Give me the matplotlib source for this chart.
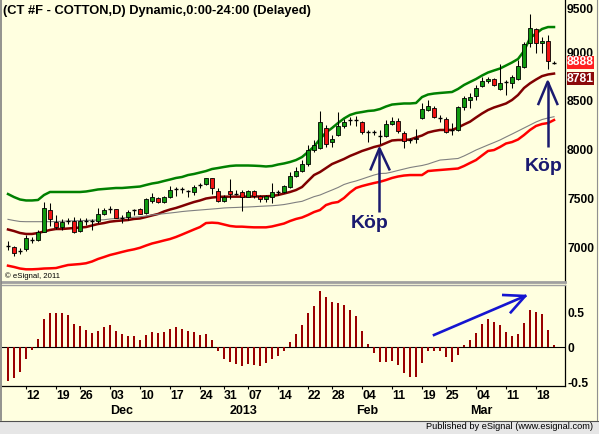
import numpy as np
import pandas as pd
import matplotlib
matplotlib.use("Agg")
import matplotlib.pyplot as plt
from matplotlib.lines import Line2D
from matplotlib.patches import Rectangle

plt.rcParams["font.family"] = ["Liberation Sans", "DejaVu Sans"]
plt.rcParams["axes.unicode_minus"] = False

# ----------------------------
# Data
# ----------------------------
holidays = ["2012-11-22", "2012-12-25", "2013-01-01", "2013-01-21", "2013-02-18"]
dates = pd.bdate_range("2012-11-06", "2013-03-20").drop(pd.to_datetime(holidays))

open_ = [7005, 6997, 6960, 6980, 7070, 7072, 7157, 7380, 7254, 7208,
         7262, 7267, 7167, 7258, 7266, 7270, 7336, 7391, 7390, 7297,
         7311, 7371, 7387, 7346, 7472, 7500, 7459, 7510, 7591, 7598,
         7573, 7565, 7628, 7647, 7706, 7578, 7475, 7575, 7542, 7562,
         7517, 7575, 7524, 7493, 7510, 7560, 7562, 7619, 7732, 7784,
         7852, 7996, 8014, 8225, 8075, 8150, 8243, 8299, 8309, 8287,
         8172, 8183, 8135, 8140, 8260, 8294, 8168, 8094, 8119, 8328,
         8407, 8424, 8320, 8315, 8200, 8202, 8441, 8510, 8554, 8654,
         8705, 8725, 8620, 8689, 8681, 8722, 8852, 9092, 9239, 9092,
         9116, 8893]
high = [7062, 7010, 6990, 7123, 7106, 7175, 7459, 7455, 7326, 7284,
        7295, 7311, 7295, 7295, 7288, 7398, 7398, 7421, 7395, 7326,
        7380, 7393, 7398, 7506, 7551, 7517, 7524, 7626, 7619, 7613,
        7585, 7637, 7654, 7712, 7709, 7603, 7534, 7695, 7585, 7585,
        7585, 7585, 7534, 7534, 7654, 7585, 7637, 7773, 7825, 7893,
        8048, 8099, 8400, 8253, 8150, 8383, 8312, 8332, 8345, 8294,
        8202, 8202, 8202, 8304, 8332, 8322, 8191, 8116, 8209, 8482,
        8510, 8448, 8356, 8338, 8270, 8448, 8551, 8579, 8664, 8743,
        8743, 8733, 8876, 8715, 8766, 8920, 9108, 9393, 9246, 9160,
        9177, 8910]
low = [6969, 6908, 6928, 6959, 7044, 7065, 7154, 7216, 7188, 7175,
       7236, 7141, 7154, 7226, 7175, 7250, 7329, 7352, 7295, 7250,
       7277, 7326, 7336, 7339, 7449, 7449, 7449, 7500, 7524, 7551,
       7510, 7534, 7609, 7637, 7541, 7465, 7465, 7493, 7534, 7373,
       7510, 7500, 7465, 7465, 7449, 7534, 7551, 7603, 7722, 7773,
       7832, 7979, 8003, 8030, 8024, 8140, 8225, 8253, 8243, 8160,
       8081, 8150, 8058, 8127, 8253, 8174, 8014, 8071, 8071, 8311,
       8397, 8322, 8287, 8174, 8150, 8194, 8407, 8424, 8510, 8640,
       8681, 8654, 8612, 8561, 8630, 8715, 8835, 9057, 8989, 8989,
       8825, 8876]
close = [7010, 6935, 6958, 7089, 7075, 7157, 7398, 7284, 7208, 7254,
         7266, 7154, 7267, 7262, 7262, 7336, 7383, 7395, 7301, 7293,
         7356, 7375, 7339, 7490, 7510, 7462, 7510, 7585, 7595, 7594,
         7577, 7613, 7632, 7706, 7609, 7475, 7510, 7541, 7546, 7510,
         7575, 7524, 7493, 7524, 7562, 7564, 7626, 7729, 7780, 7849,
         7996, 8048, 8284, 8058, 8109, 8246, 8287, 8303, 8305, 8178,
         8176, 8179, 8139, 8260, 8294, 8194, 8089, 8098, 8109, 8414,
         8448, 8332, 8324, 8178, 8204, 8435, 8527, 8544, 8630, 8705,
         8725, 8664, 8687, 8693, 8743, 8859, 9085, 9246, 9092, 9116,
         8913, 8888]

upper_band = [7544, 7513, 7488, 7478, 7478, 7483, 7534, 7565, 7565, 7565,
              7565, 7565, 7565, 7570, 7580, 7591, 7596, 7601, 7606, 7606,
              7611, 7616, 7621, 7637, 7652, 7662, 7678, 7693, 7709, 7719,
              7739, 7750, 7765, 7780, 7801, 7811, 7822, 7832, 7837, 7837,
              7837, 7835, 7832, 7827, 7832, 7847, 7858, 7873, 7893, 7924,
              7976, 8032, 8109, 8176, 8222, 8273, 8320, 8356, 8376, 8386,
              8397, 8402, 8417, 8443, 8463, 8469, 8474, 8474, 8479, 8540,
              8566, 8576, 8582, 8587, 8592, 8623, 8664, 8695, 8725, 8761,
              8792, 8813, 8833, 8864, 8895, 8931, 9013, 9146, 9193, 9239,
              9259, 9259]
mid_line = [7180, 7164, 7144, 7134, 7134, 7144, 7159, 7175, 7185, 7185,
            7190, 7195, 7200, 7205, 7221, 7236, 7246, 7260, 7267, 7272,
            7277, 7288, 7293, 7308, 7324, 7339, 7365, 7385, 7401, 7421,
            7442, 7462, 7478, 7498, 7508, 7514, 7517, 7517, 7517, 7517,
            7517, 7519, 7519, 7521, 7524, 7534, 7549, 7565, 7585, 7616,
            7678, 7739, 7770, 7811, 7852, 7878, 7904, 7935, 7960, 7986,
            8006, 8027, 8042, 8068, 8094, 8099, 8099, 8104, 8125, 8145,
            8176, 8191, 8202, 8202, 8202, 8227, 8258, 8287, 8330, 8371,
            8407, 8433, 8453, 8474, 8510, 8561, 8633, 8681, 8720, 8755,
            8772, 8781]
slow_line = [7284, 7272, 7262, 7260, 7260, 7260, 7260, 7260, 7262, 7264,
             7267, 7269, 7271, 7273, 7275, 7277, 7280, 7288, 7293, 7298,
             7301, 7306, 7311, 7318, 7329, 7336, 7342, 7349, 7356, 7364,
             7370, 7375, 7380, 7385, 7390, 7395, 7401, 7404, 7406, 7409,
             7411, 7414, 7418, 7421, 7424, 7429, 7436, 7447, 7459, 7469,
             7493, 7517, 7534, 7560, 7585, 7611, 7642, 7662, 7678, 7698,
             7719, 7739, 7755, 7757, 7770, 7786, 7801, 7816, 7827, 7837,
             7852, 7873, 7893, 7898, 7904, 7909, 7935, 7965, 7996, 8022,
             8048, 8073, 8099, 8130, 8160, 8191, 8222, 8253, 8284, 8309,
             8325, 8338]
lower_band = [6808, 6795, 6779, 6771, 6771, 6774, 6779, 6781, 6784, 6800,
              6815, 6820, 6825, 6833, 6851, 6877, 6897, 6918, 6933, 6949,
              6964, 6976, 6992, 7015, 7036, 7051, 7067, 7082, 7103, 7128,
              7154, 7180, 7205, 7246, 7250, 7246, 7231, 7216, 7209, 7209,
              7205, 7202, 7202, 7202, 7211, 7226, 7241, 7267, 7288, 7303,
              7329, 7359, 7380, 7431, 7452, 7462, 7503, 7560, 7606, 7626,
              7642, 7657, 7670, 7688, 7709, 7724, 7734, 7739, 7739, 7739,
              7780, 7786, 7791, 7796, 7801, 7806, 7832, 7863, 7893, 7940,
              7986, 7996, 8027, 8063, 8078, 8104, 8150, 8202, 8243, 8263,
              8273, 8304]
oscillator = [-0.48, -0.44, -0.35, -0.17, -0.04, 0.12, 0.40, 0.49, 0.49, 0.49,
              0.46, 0.33, 0.30, 0.25, 0.21, 0.23, 0.29, 0.32, 0.23, 0.19,
              0.16, 0.16, 0.105, 0.175, 0.22, 0.21, 0.22, 0.26, 0.29, 0.26,
              0.23, 0.22, 0.175, 0.19, 0.105, -0.06, -0.17, -0.205, -0.24, -0.27,
              -0.24, -0.25, -0.27, -0.22, -0.17, -0.13, -0.06, 0.075, 0.19, 0.32,
              0.485, 0.59, 0.80, 0.72, 0.65, 0.63, 0.60, 0.53, 0.44, 0.23,
              0.05, -0.08, -0.21, -0.21, -0.19, -0.26, -0.37, -0.43, -0.43, -0.23,
              -0.06, -0.05, -0.05, -0.14, -0.21, -0.11, 0.03, 0.10, 0.21, 0.33,
              0.40, 0.36, 0.32, 0.22, 0.16, 0.19, 0.35, 0.53, 0.50, 0.475,
              0.25, 0.03]

price_ticks = [7000, 7500, 8000, 8500, 9000]
osc_ticks = [-0.5, 0, 0.5]
title = "(CT #F - COTTON,D) Dynamic,0:00-24:00 (Delayed)"

# ----------------------------
# Layout
# ----------------------------
W, H = 599, 434
BG = "#FFFFE0"


def box(x0, y0, x1, y1):
    return [x0 / W, 1 - y1 / H, (x1 - x0) / W, (y1 - y0) / H]


fig = plt.figure(figsize=(W / 100, H / 100), dpi=100, facecolor=BG)
ax = fig.add_axes(box(2, 0, 565, 282), facecolor=BG)
ax2 = fig.add_axes(box(2, 285, 565, 386), facecolor=BG)

x = np.arange(len(dates))
o = np.array(open_)
h = np.array(high)
l = np.array(low)
c = np.array(close)

# ----------------------------
# Price panel
# ----------------------------
ax.plot(x, upper_band, color="#008000", lw=1.8, zorder=2)
ax.plot(x, mid_line, color="#800000", lw=1.8, zorder=2)
ax.plot(x, slow_line, color="#808080", lw=0.8, zorder=2)
ax.plot(x, lower_band, color="#FF0000", lw=1.8, zorder=2)

ax.vlines(x, l, h, color="black", lw=0.75, zorder=3)
doji = np.abs(c - o) < 8
up = (c > o) & ~doji
down = (c < o) & ~doji
ax.bar(x[up], (c - o)[up], bottom=o[up], width=0.72, color="#109A10",
       edgecolor="black", lw=0.6, zorder=4)
ax.bar(x[down], (o - c)[down], bottom=c[down], width=0.72, color="#F01414",
       edgecolor="black", lw=0.6, zorder=4)
ax.hlines(c[doji], x[doji] - 0.38, x[doji] + 0.38, color="black", lw=1.0, zorder=4)

ax.set_xlim(-1.0, 92.83)
ax.set_ylim(6640.6, 9536.7)
ax.set_xticks([])
ax.yaxis.tick_right()
ax.set_yticks(price_ticks)
ax.tick_params(axis="y", length=0, pad=1.5, labelsize=8.7)
for lbl in ax.get_yticklabels():
    lbl.set_fontweight("bold")
ax.text(1 + 2 / 563, 9429, "9500", transform=ax.get_yaxis_transform(),
        ha="left", va="center", fontsize=8.7, fontweight="bold")
for side in ["left", "top"]:
    ax.spines[side].set_visible(False)
ax.spines["right"].set_color("black")
ax.spines["right"].set_linewidth(0.9)
ax.spines["bottom"].set_color("#A0A0A0")
ax.spines["bottom"].set_linewidth(2)

# last price and mid-line value boxes (the lower one is pushed down to stay clear)
ax.annotate(f"{mid_line[-1]:.0f}", xy=(1, mid_line[-1]), xycoords=ax.get_yaxis_transform(),
            xytext=(1.5, -3.6), textcoords="offset points",
            ha="left", va="center", fontsize=8.7, fontweight="bold", color="white", zorder=5,
            bbox=dict(boxstyle="square,pad=0.02", fc="#8B0A0A", ec="none"))
ax.annotate(f"{close[-1]:.0f}", xy=(1, close[-1]), xycoords=ax.get_yaxis_transform(),
            xytext=(1.5, 0.6), textcoords="offset points",
            ha="left", va="center", fontsize=8.7, fontweight="bold", color="white", zorder=6,
            bbox=dict(boxstyle="square,pad=0.02", fc="#FF2020", ec="none"))

# buy arrows
navy = "#1A1A70"
ax.plot([61.9, 61.9], [7359, 8014], color=navy, lw=1.8, zorder=5, solid_capstyle="butt")
ax.plot([60.45, 61.9, 63.55], [7798, 8014, 7798], color=navy, lw=1.8, zorder=5)
ax.text(60.2, 7241, "Köp", ha="center", va="center", fontsize=14,
        fontweight="bold", color=navy, zorder=5)
ax.plot([89.95, 89.95], [8027, 8698], color=navy, lw=1.8, zorder=5, solid_capstyle="butt")
ax.plot([88.4, 89.95, 91.55], [8469, 8698, 8469], color=navy, lw=1.8, zorder=5)
ax.text(89.2, 7827, "Köp", ha="center", va="center", fontsize=14,
        fontweight="bold", color=navy, zorder=5)

ax.text(3 / 563, 6 / 282, "© eSignal, 2011", transform=ax.transAxes,
        ha="left", va="center", fontsize=5.6)

# ----------------------------
# Oscillator panel
# ----------------------------
ax2.bar(x, oscillator, width=0.37, color="#990000", zorder=2)
ax2.axhline(0, color="black", lw=0.8, zorder=1)
ax2.plot([71, 86.2], [0.176, 0.733], color="#1515D0", lw=1.9, zorder=3)
ax2.plot([82.55, 86.2, 83.8], [0.747, 0.733, 0.50], color="#1515D0", lw=1.9, zorder=3)

ax2.set_xlim(-1.0, 92.83)
ax2.set_ylim(-0.553, 0.89)
ax2.yaxis.tick_right()
ax2.set_yticks(osc_ticks, labels=["-0.5", "0", "0.5"])
ax2.tick_params(axis="y", length=0, pad=1.5, labelsize=8.7)
for lbl in ax2.get_yticklabels():
    lbl.set_fontweight("bold")

# week ticks sit on the bar before each new week, labels start there
week_start = [i for i in range(1, len(dates)) if dates[i].weekday() < dates[i - 1].weekday()]
month_start = [i for i in range(1, len(dates)) if dates[i].month != dates[i - 1].month]
ax2.set_xticks([i - 1 for i in week_start], labels=[dates[i].strftime("%d") for i in week_start])
ax2.tick_params(axis="x", length=2.5, width=0.8, pad=0.5, labelsize=8.8)
for lbl in ax2.get_xticklabels():
    lbl.set_ha("left")
    lbl.set_fontweight("bold")
for i in month_start:
    name = str(dates[i].year) if dates[i].month == 1 else dates[i].strftime("%b")
    ax2.text(i - 1, -0.2446, name, transform=ax2.get_xaxis_transform(),
             ha="left", va="center", fontsize=9, fontweight="bold")

ax2.spines["left"].set_visible(False)
ax2.spines["top"].set_color("#A0A0A0")
ax2.spines["top"].set_linewidth(1)
ax2.spines["right"].set_linewidth(0.9)
ax2.spines["bottom"].set_linewidth(0.9)

# ----------------------------
# Frame and footer
# ----------------------------
fig.text(3 / W, 1 - 11 / H, title, ha="left", va="center", fontsize=9.3, fontweight="bold")
fig.patches.append(Rectangle((0, 0), 1, 13.5 / H, transform=fig.transFigure,
                             fc="#E6E6E6", ec="none", zorder=0))
fig.add_artist(Line2D([0, 1], [1 - 420.5 / H] * 2, color="#505050", lw=0.8))
fig.add_artist(Line2D([0.8 / W] * 2, [1, 1 - 420 / H], color="#808080", lw=1.2))
fig.add_artist(Line2D([597 / W] * 2, [1, 1 - 420 / H], color="#909090", lw=0.8))
fig.text(593 / W, 1 - 426.5 / H, "Published by eSignal (www.esignal.com)",
         ha="right", va="center", fontsize=6.7)

fig.savefig("out.png", dpi=100, facecolor=BG)
